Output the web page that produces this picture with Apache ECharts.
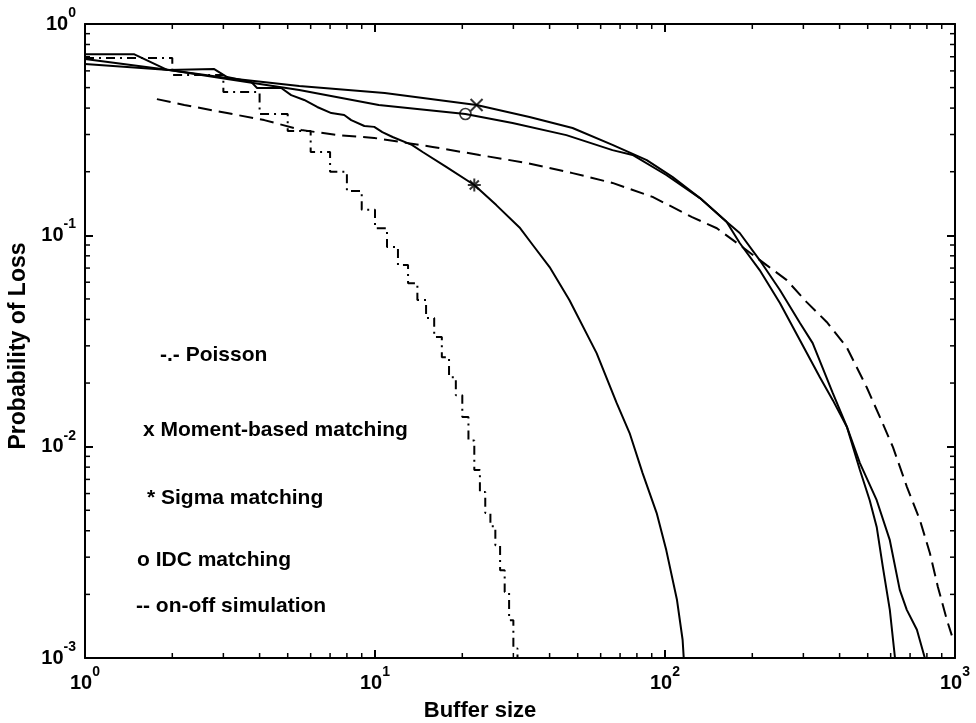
<!DOCTYPE html>
<html>
<head>
<meta charset="utf-8">
<script src="https://cdn.jsdelivr.net/npm/echarts@6/dist/echarts.min.js"></script>
<style>
html,body{margin:0;padding:0;background:#fff;}
#chart{width:976px;height:723px;}
</style>
</head>
<body>
<div id="chart"></div>
<script>
// ---- data ----
const poisson = [[1,0.69],[2,0.574],[3,0.477],[4,0.375],[5,0.312],[6,0.248],[7,0.20],[8,0.162],[9,0.132],[10,0.108],
  [11,0.088],[12,0.0723],[13,0.0594],[14,0.0494],[15,0.0406],[16,0.033],[17,0.0265],[18,0.0213],[19,0.0175],[20,0.0138],
  [21,0.0107],[22,0.00775],[23,0.0061],[24,0.00485],[25,0.0042],[26,0.00342],[27,0.0026],[28,0.00205],[29,0.00151],
  [30,0.00111],[31,0.0009]];
const momentBased = [[1,0.647],[1.95,0.606],[3.09,0.555],[5.48,0.509],[10.8,0.471],[22.4,0.414],[34.1,0.363],[48.0,0.322],
  [65.9,0.268],[86.5,0.227],[106,0.189],[132,0.150],[163,0.116],[181,0.1026],[212,0.0764],[249,0.0551],[292,0.0385],
  [323,0.0309],[379,0.0179],[424,0.0124],[470,0.00836],[537,0.00558],[596,0.00361],[645,0.00210],[682,0.00169],
  [739,0.00136],[787,0.001],[800,0.0009]];
const sigma = [[1,0.719],[1.48,0.719],[1.92,0.606],[2.79,0.612],[3.09,0.561],[3.74,0.532],[3.92,0.498],[4.75,0.498],
  [5.14,0.461],[5.70,0.437],[6.32,0.405],[7.07,0.379],[7.83,0.371],[8.28,0.351],[9.19,0.329],[9.94,0.326],[10.6,0.308],
  [11.5,0.292],[13.4,0.268],[14.6,0.248],[17.6,0.211],[22.0,0.173],[26.2,0.139],[31.5,0.109],[35.0,0.090],[40.0,0.0708],
  [46.8,0.0494],[58.1,0.0277],[68.1,0.0161],[75.5,0.0116],[83.7,0.0075],[93.6,0.00485],[101,0.00324],[110,0.00188],
  [115,0.00122],[116,0.00101],[117,0.0009]];
const idc = [[1,0.683],[1.95,0.606],[3.09,0.549],[5.48,0.487],[10.3,0.414],[20.5,0.375],[29.8,0.340],[45.7,0.298],
  [65.9,0.253],[77.3,0.240],[101,0.193],[132,0.150],[163,0.116],[181,0.092],[212,0.0685],[249,0.0478],[292,0.0319],
  [342,0.0213],[379,0.0166],[424,0.0124],[470,0.00775],[508,0.00558],[537,0.00417],[564,0.00269],[596,0.00169],
  [621,0.001],[630,0.0009]];
const onOffSimulation = [[1.77,0.441],[2.20,0.414],[3.09,0.379],[4.15,0.351],[5.57,0.315],[7.42,0.298],[9.94,0.289],
  [15.8,0.262],[22.9,0.240],[33.3,0.220],[48.0,0.197],[65.9,0.177],[90.6,0.152],[124,0.122],[151,0.108],[177,0.092],
  [224,0.0723],[263,0.0614],[308,0.0483],[361,0.0389],[423,0.0296],[496,0.0191],[551,0.0138],[611,0.00995],
  [683,0.00644],[757,0.00449],[819,0.00314],[873,0.00217],[938,0.00151],[975,0.00128]];
const momentMarker = [[22.4,0.414]];
const sigmaMarker = [[22.0,0.173]];
const idcMarker = [[20.5,0.375]];
const xMinorTicks = [2,3,4,5,6,7,8,9,20,30,40,50,60,70,80,90,200,300,400,500,600,700,800,900];
const yMinorTicks = [0.002,0.003,0.004,0.005,0.006,0.007,0.008,0.009,0.02,0.03,0.04,0.05,0.06,0.07,0.08,0.09,
  0.2,0.3,0.4,0.5,0.6,0.7,0.8,0.9];
const annotationTexts = ['-.- Poisson','x Moment-based matching','* Sigma matching','o IDC matching','-- on-off simulation'];
const xName = 'Buffer size';
const yName = 'Probability of Loss';

// ---- chart ----
const F = '"Liberation Sans", Arial, Helvetica, sans-serif';
const chart = echarts.init(document.getElementById('chart'), null, {renderer:'canvas'});
const expFmt = v => '{b|10}{s|' + Math.round(Math.log10(v)) + '}';
const richLbl = {
  b:{fontSize:20, fontFamily:F, fontWeight:'bold', color:'#000', lineHeight:36},
  s:{fontSize:14, fontFamily:F, fontWeight:'bold', color:'#000', lineHeight:14, verticalAlign:'top'}
};
const axLine = {show:true, onZero:false, lineStyle:{color:'#000', width:2}};
const axTick = {show:true, inside:true, length:8, lineStyle:{color:'#000', width:2}};
const solid = {color:'#000', width:2};

function minorTicks(values, dim) {
  return {
    type:'custom', silent:true, z:5, clip:false, animation:false,
    data: values.map(v => dim === 'x' ? [v, 1] : [1, v]),
    renderItem(params, api) {
      const cs = params.coordSys;
      const p = api.coord([api.value(0), api.value(1)]);
      const st = {stroke:'#000', lineWidth:1.5};
      if (dim === 'x') {
        return {type:'group', children:[
          {type:'line', shape:{x1:p[0], y1:cs.y + cs.height, x2:p[0], y2:cs.y + cs.height - 5}, style:st},
          {type:'line', shape:{x1:p[0], y1:cs.y, x2:p[0], y2:cs.y + 5}, style:st}
        ]};
      }
      return {type:'group', children:[
        {type:'line', shape:{x1:cs.x, y1:p[1], x2:cs.x + 5, y2:p[1]}, style:st},
        {type:'line', shape:{x1:cs.x + cs.width, y1:p[1], x2:cs.x + cs.width - 5, y2:p[1]}, style:st}
      ]};
    }
  };
}

const annPos = [[160,355],[143,430],[147,498],[137,560],[136,606]];

const option = {
  animation:false,
  backgroundColor:'#fff',
  grid:{left:85, right:21, top:24, bottom:65, containLabel:false, outerBoundsMode:'none'},
  xAxis:[
    {type:'log', logBase:10, min:1, max:1000, position:'bottom', axisLine:axLine, axisTick:axTick,
     axisLabel:{formatter:expFmt, rich:richLbl, margin:7},
     splitLine:{show:false},
     name:xName, nameLocation:'middle', nameGap:42,
     nameTextStyle:{fontSize:22, fontFamily:F, fontWeight:'bold', color:'#000', padding:[0,80,0,0]}},
    {type:'log', logBase:10, min:1, max:1000, position:'top', axisLine:axLine, axisTick:axTick,
     axisLabel:{show:false}, splitLine:{show:false}}
  ],
  yAxis:[
    {type:'log', logBase:10, min:0.001, max:1, position:'left', axisLine:axLine, axisTick:axTick,
     axisLabel:{formatter:expFmt, rich:richLbl, margin:9},
     splitLine:{show:false},
     name:yName, nameLocation:'middle', nameGap:55, nameRotate:90,
     nameTextStyle:{fontSize:23, fontFamily:F, fontWeight:'bold', color:'#000', padding:[0,10,0,0]}},
    {type:'log', logBase:10, min:0.001, max:1, position:'right', axisLine:axLine, axisTick:axTick,
     axisLabel:{show:false}, splitLine:{show:false}}
  ],
  series:[
    {name:'Poisson', type:'line', data:poisson, step:'end', symbol:'none', lineStyle:{color:'#000', width:2, type:[9,5,2,5]}},
    {name:'Moment-based matching', type:'line', data:momentBased, symbol:'none', lineStyle:solid},
    {name:'Sigma matching', type:'line', data:sigma, symbol:'none', lineStyle:solid},
    {name:'IDC matching', type:'line', data:idc, symbol:'none', lineStyle:solid},
    {name:'on-off simulation', type:'line', data:onOffSimulation, symbol:'none', lineStyle:{color:'#000', width:2, type:[14,7]}},
    {type:'scatter', data:momentMarker, symbol:'path://M0 0L10 10M10 0L0 10', symbolSize:12,
     itemStyle:{color:'rgba(0,0,0,0)', borderColor:'#000', borderWidth:2}, z:6},
    {type:'scatter', data:sigmaMarker, symbol:'path://M5 0L5 10M0 5L10 5M1.5 1.5L8.5 8.5M8.5 1.5L1.5 8.5', symbolSize:13,
     itemStyle:{color:'rgba(0,0,0,0)', borderColor:'#000', borderWidth:2}, z:6},
    {type:'scatter', data:idcMarker, symbol:'circle', symbolSize:11,
     itemStyle:{color:'rgba(0,0,0,0)', borderColor:'#000', borderWidth:1.6}, z:6},
    minorTicks(xMinorTicks, 'x'),
    minorTicks(yMinorTicks, 'y')
  ],
  graphic: annotationTexts.map((t, i) => ({
    type:'text', x:annPos[i][0], y:annPos[i][1], silent:true,
    style:{text:t, fill:'#000', font:'bold 21px "Liberation Sans", Arial, sans-serif', verticalAlign:'middle', textVerticalAlign:'middle'}
  }))
};
chart.setOption(option);
</script>
</body>
</html>
